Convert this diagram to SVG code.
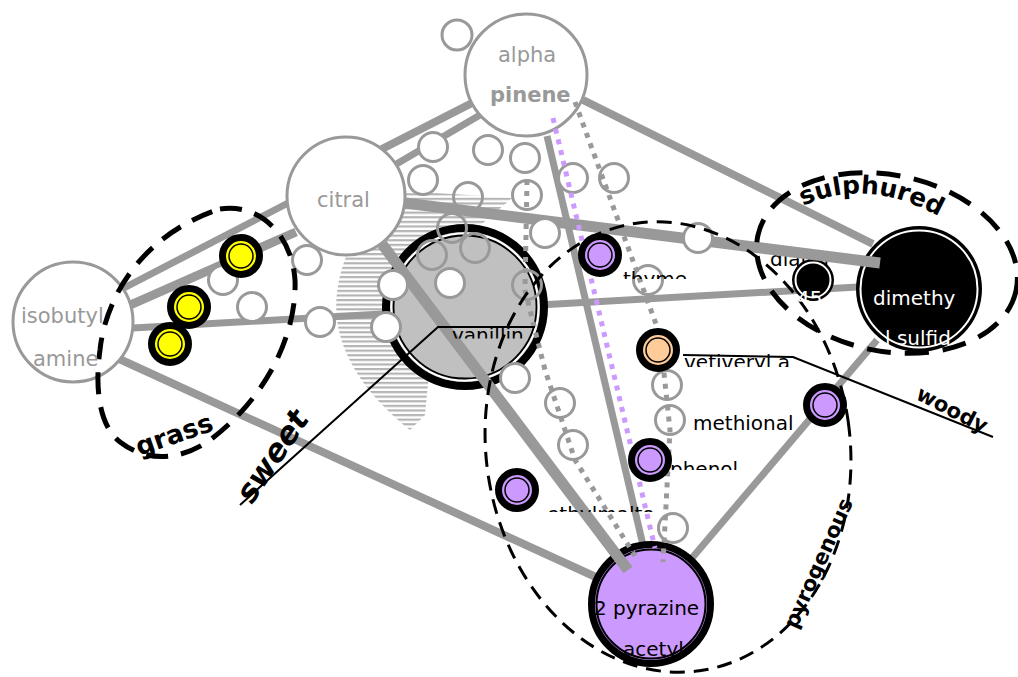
<svg xmlns="http://www.w3.org/2000/svg" width="1018" height="677" viewBox="0 0 1018 677">
<style>
.e{stroke:#999;fill:none}
.sc{fill:#fff;stroke:#999;stroke-width:3}
.st{fill:none;stroke:#999;stroke-width:3}
.gd{fill:none;stroke:#999;stroke-width:5;stroke-dasharray:5 6}
.pd{fill:none;stroke:#cc99ff;stroke-width:5;stroke-dasharray:5 6}
.sn{stroke:#000;stroke-width:7}
.ring{fill:none;stroke:#000;stroke-width:1.5}
.nl{font-family:"DejaVu Sans","Liberation Sans",sans-serif;font-size:21px;fill:#999}
.bl{font-family:"DejaVu Sans","Liberation Sans",sans-serif;font-size:20px;fill:#000}
.gl{font-family:"DejaVu Sans","Liberation Sans",sans-serif;font-weight:bold;fill:#000}
.lead{fill:none;stroke:#000;stroke-width:2}
</style>
<defs>
<pattern id="hatch" width="6" height="4.6" patternUnits="userSpaceOnUse"><rect width="6" height="2.2" fill="#b4b4b4"/></pattern>
<clipPath id="cThyme"><rect x="600" y="260" width="120" height="19"/></clipPath>
<clipPath id="cPhenol"><rect x="640" y="450" width="140" height="20"/></clipPath>
<clipPath id="cEthyl"><rect x="520" y="495" width="160" height="17"/></clipPath>
<clipPath id="cVet"><rect x="680" y="340" width="140" height="27"/></clipPath>
<clipPath id="cVan"><rect x="440" y="315" width="120" height="23.5"/></clipPath>
</defs>

<path d="M 405 191 L 512 198 L 440 260 L 425 415 L 410 430 C 375 402, 343 365, 337 320 C 331 270, 360 210, 405 191 Z" fill="url(#hatch)"/>

<g id="connectors">
<line class="e" x1="120" y1="290" x2="292" y2="201" stroke-width="7"/>
<line class="e" x1="128" y1="306" x2="296" y2="232" stroke-width="9"/>
<line class="e" x1="133" y1="328" x2="858" y2="287" stroke-width="7"/>
<line class="e" x1="104" y1="352" x2="598" y2="578" stroke-width="8"/>
<line class="e" x1="380" y1="150" x2="472" y2="103" stroke-width="8"/>
<line class="e" x1="393" y1="166" x2="480" y2="115" stroke-width="7"/>
<line class="e" x1="583" y1="100" x2="873" y2="244" stroke-width="8"/>
<line class="e" x1="547" y1="136" x2="643" y2="545" stroke-width="7"/>
<line class="e" x1="692" y1="558" x2="877" y2="340" stroke-width="7"/>
</g>

<g id="isobutylamine"><circle cx="73" cy="322" r="60" fill="#fff" stroke="#999" stroke-width="3"/></g>
<g id="citral"><circle cx="346" cy="196" r="59" fill="#fff" stroke="#999" stroke-width="3"/></g>
<g id="alphapinene"><circle cx="526" cy="75" r="61" fill="#fff" stroke="#999" stroke-width="3"/></g>
<g id="vanillin">
<circle cx="465" cy="307" r="79" fill="#c0c0c0" stroke="#000" stroke-width="8"/>
<circle cx="465" cy="307" r="73.5" fill="none" stroke="#fff" stroke-width="2"/>
<circle cx="465" cy="307" r="71.5" fill="none" stroke="#000" stroke-width="1.8"/>
</g>
<g id="dimethylsulfide">
<circle cx="919" cy="289" r="63" fill="#000"/>
<circle cx="919" cy="289" r="58.5" fill="none" stroke="#fff" stroke-width="2"/>
</g>
<g id="acetylpyrazine">
<circle cx="651" cy="604" r="59.5" fill="#cc99ff" stroke="#000" stroke-width="7"/>
<circle cx="651" cy="604" r="54.5" fill="none" stroke="#000" stroke-width="2"/>
</g>
<text class="bl" x="770" y="266">diallyl</text>
<g id="diallyl">
<circle cx="813" cy="280" r="21" fill="#000"/>
<circle cx="813" cy="280" r="17.5" fill="none" stroke="#fff" stroke-width="2"/>
</g>

<g id="connectors-over">
<line class="e" x1="405" y1="203" x2="880" y2="263" stroke-width="11"/>
<line class="e" x1="382" y1="244" x2="628" y2="570" stroke-width="11"/>
</g>

<g id="small-circles">
<circle class="sc" cx="457" cy="35" r="15"/>
<circle class="sc" cx="433" cy="147" r="14.5"/>
<circle class="sc" cx="488" cy="150" r="14.5"/>
<circle class="sc" cx="525" cy="158" r="14.5"/>
<circle class="sc" cx="527" cy="195" r="14.5"/>
<circle class="sc" cx="573" cy="178" r="14.5"/>
<circle class="sc" cx="614" cy="178" r="14.5"/>
<circle class="sc" cx="423" cy="180" r="14.5"/>
<circle class="st" cx="468" cy="197" r="14.5"/>
<circle class="st" cx="452" cy="228" r="14.5"/>
<circle class="st" cx="432" cy="255" r="14.5"/>
<circle class="st" cx="475" cy="248" r="14.5"/>
<circle class="st" cx="527" cy="285" r="14.5"/>
<circle class="sc" cx="450" cy="283" r="14.5"/>
<circle class="sc" cx="393" cy="285" r="14.5"/>
<circle class="sc" cx="386" cy="327" r="14.5"/>
<circle class="sc" cx="320" cy="322" r="14.5"/>
<circle class="sc" cx="307" cy="260" r="14.5"/>
<circle class="sc" cx="223" cy="280" r="14.5"/>
<circle class="sc" cx="252" cy="307" r="14.5"/>
<circle class="sc" cx="545" cy="233" r="14.5"/>
<circle class="sc" cx="648" cy="280" r="14.5"/>
<circle class="sc" cx="698" cy="238" r="14.5"/>
<circle class="sc" cx="515" cy="378" r="14.5"/>
<circle class="sc" cx="560" cy="403" r="14.5"/>
<circle class="sc" cx="573" cy="445" r="14.5"/>
<circle class="sc" cx="667" cy="385" r="14.5"/>
<circle class="sc" cx="670" cy="420" r="14.5"/>
<circle class="sc" cx="673" cy="528" r="14.5"/>
</g>

<g id="dotted">
<line class="pd" x1="553" y1="118" x2="655" y2="548"/>
<polyline class="gd" points="575,102 660,335 670,430 663,562"/>
<polyline class="gd" points="527,180 525,290 545,370 575,460 635,556"/>
</g>

<g id="small-nodes">
<g id="y1"><circle class="sn" cx="241" cy="256" r="18.5" fill="#ffff00"/><circle class="ring" cx="241" cy="256" r="12"/></g>
<g id="y2"><circle class="sn" cx="189" cy="307" r="18.5" fill="#ffff00"/><circle class="ring" cx="189" cy="307" r="12"/></g>
<g id="y3"><circle class="sn" cx="170" cy="344" r="18.5" fill="#ffff00"/><circle class="ring" cx="170" cy="344" r="12"/></g>
<g id="thyme"><circle class="sn" cx="600" cy="255" r="18.5" fill="#cc99ff"/><circle class="ring" cx="600" cy="255" r="12"/></g>
<g id="vetiveryl"><circle class="sn" cx="658" cy="350" r="18.5" fill="#ffcc99"/><circle class="ring" cx="658" cy="350" r="12"/></g>
<g id="methional"><circle class="sn" cx="825" cy="405" r="18.5" fill="#cc99ff"/><circle class="ring" cx="825" cy="405" r="12"/></g>
<g id="phenol"><circle class="sn" cx="650" cy="460" r="18.5" fill="#cc99ff"/><circle class="ring" cx="650" cy="460" r="12"/></g>
<g id="ethylmaltol"><circle class="sn" cx="517" cy="490" r="18.5" fill="#cc99ff"/><circle class="ring" cx="517" cy="490" r="12"/></g>
</g>

<g id="groups">
<path d="M 220 209 C 260 203, 292 235, 295 280 C 297 330, 270 395, 210 440 C 185 458, 150 465, 120 442 C 98 425, 95 385, 100 350 C 105 300, 140 235, 220 209 Z" fill="none" stroke="#000" stroke-width="5" stroke-dasharray="22 13"/>
<ellipse cx="887" cy="263" rx="132" ry="88" transform="rotate(12 887 263)" fill="none" stroke="#000" stroke-width="5" stroke-dasharray="24 14"/>
<ellipse cx="668" cy="447" rx="182" ry="226" transform="rotate(-8 668 447)" fill="none" stroke="#000" stroke-width="3" stroke-dasharray="15 9"/>
</g>

<g id="leaders">
<polyline class="lead" points="240,505 438,327 535,327"/>
<polyline class="lead" points="683,355 793,357 993,437"/>
</g>

<g id="labels">
<text class="nl" x="21" y="323">isobutyl</text>
<text class="nl" x="33" y="366">amine</text>
<text class="nl" x="317" y="207">citral</text>
<text class="nl" x="498" y="62" font-size="20">alpha</text>
<text class="nl" x="490" y="102" font-size="20" font-weight="bold">pinene</text>
<text class="bl" x="452" y="342" font-size="24" clip-path="url(#cVan)">vanillin</text>
<text class="bl" x="873" y="305" font-size="21" style="fill:#fff">dimethy</text>
<text class="bl" x="885" y="345" font-size="21" style="fill:#fff">l sulfid</text>
<text class="bl" x="797" y="305" style="fill:#fff">45</text>
<text class="bl" x="594" y="615" font-size="23">2 pyrazine</text>
<text class="bl" x="623" y="656" font-size="19">acetyl</text>
<text class="bl" x="623" y="286" clip-path="url(#cThyme)">thyme</text>
<text class="bl" x="684" y="369" font-size="21" clip-path="url(#cVet)">vetiveryl a</text>
<text class="bl" x="693" y="430" font-size="21">methional</text>
<text class="bl" x="670" y="476" font-size="21" clip-path="url(#cPhenol)">phenol</text>
<text class="bl" x="547" y="521" clip-path="url(#cEthyl)">ethylmalto</text>
</g>

<g id="group-labels">
<text class="gl" font-size="26" transform="translate(177,443) rotate(-19)" text-anchor="middle">grass</text>
<text class="gl" font-size="31" font-style="italic" transform="translate(281,462) rotate(-56)" text-anchor="middle">sweet</text>
<text class="gl" font-size="21" transform="translate(949,416) rotate(27)" text-anchor="middle">woody</text>
<text class="gl" font-size="21" transform="translate(825,566) rotate(-66)" text-anchor="middle">pyrogenous</text>
<path id="sulArc" d="M 803 206 Q 868 176 942 218" fill="none"/>
<text class="gl" font-size="25"><textPath href="#sulArc">sulphured</textPath></text>
</g>
</svg>
